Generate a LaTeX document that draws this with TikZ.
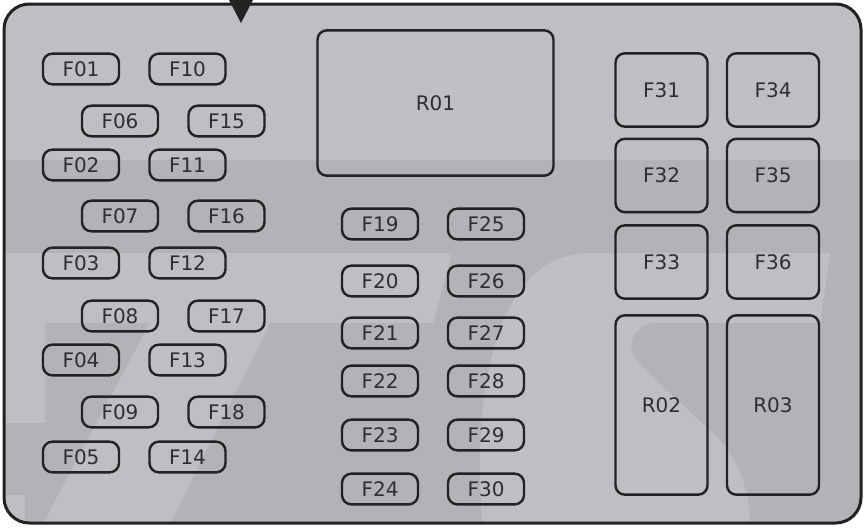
\documentclass[tikz,border=0pt]{standalone}
\usepackage{fontspec}
\setmainfont{DejaVu Sans}
\usetikzlibrary{positioning}
\definecolor{boxline}{HTML}{222222}
\definecolor{boxtext}{HTML}{2E2E30}
\definecolor{boardlight}{HTML}{BEBFC3}
\definecolor{boarddark}{HTML}{B2B3B7}

\begin{document}
\begin{tikzpicture}[
        x=0.75pt, y=-0.75pt,
        fuse/.style={rectangle, draw=boxline, line width=1.8pt, rounded corners=7pt, inner sep=0pt, minimum width=57pt, minimum height=23pt, text=boxtext, font=\fontsize{15}{18}\selectfont},
        bigfuse/.style={fuse, minimum width=69pt, minimum height=55pt},
        relay/.style={fuse, minimum width=69pt, minimum height=134.5pt},
        mainrelay/.style={fuse, minimum width=177pt, minimum height=109pt}
    ]
    \useasboundingbox (0,0) rectangle (866,529);

    % board with faint watermark
    \begin{scope}
    \path[clip, rounded corners=19pt] (4,4) rectangle (861,523);
    \fill[boardlight] (0,0) rectangle (866,529);
    \fill[boarddark] (0,160) rectangle (866,529);
    \fill[boardlight] (0,253) -- (452,253) -- (433,323) -- (0,323) -- cycle;
    \fill[boardlight] (0,323) -- (45,323) -- (45,423) -- (0,423) -- cycle;
    \fill[boardlight] (0,495) -- (25,495) -- (25,529) -- (0,529) -- cycle;
    \fill[boardlight] (150,323) -- (270,323) -- (167,529) -- (40,529) -- cycle;
    \fill[boardlight] (483,529) .. controls (470,380) and (500,253) .. (590,253) -- (830,253) -- (820,323) -- (650,323) .. controls (630,330) and (625,350) .. (640,365) -- (720,440) .. controls (745,470) and (750,500) .. (750,529) -- cycle;
    \end{scope}
    \draw[boxline, line width=2.25pt, rounded corners=19pt] (4,4) rectangle (861,523);
    \fill[boxline] (229,0) -- (253,0) -- (241,23) -- cycle;

    % left fuses
    \node[fuse] (f01) at (81,69) {F01};
    \node[fuse] (f10) at (187.5,69) {F10};
    \node[fuse] (f06) at (120,121) {F06};
    \node[fuse] (f15) at (226.5,121) {F15};
    \node[fuse] (f02) at (81,165) {F02};
    \node[fuse] (f11) at (187.5,165) {F11};
    \node[fuse] (f07) at (120,216) {F07};
    \node[fuse] (f16) at (226.5,216) {F16};
    \node[fuse] (f03) at (81,263) {F03};
    \node[fuse] (f12) at (187.5,263) {F12};
    \node[fuse] (f08) at (120,316) {F08};
    \node[fuse] (f17) at (226.5,316) {F17};
    \node[fuse] (f04) at (81,360) {F04};
    \node[fuse] (f13) at (187.5,360) {F13};
    \node[fuse] (f09) at (120,412) {F09};
    \node[fuse] (f18) at (226.5,412) {F18};
    \node[fuse] (f05) at (81,457) {F05};
    \node[fuse] (f14) at (187.5,457) {F14};

    % middle
    \node[mainrelay] (r01) at (435.5,103) {R01};
    \node[fuse] (f19) at (380,224) {F19};
    \node[fuse] (f25) at (486,224) {F25};
    \node[fuse] (f20) at (380,281) {F20};
    \node[fuse] (f26) at (486,281) {F26};
    \node[fuse] (f21) at (380,333) {F21};
    \node[fuse] (f27) at (486,333) {F27};
    \node[fuse] (f22) at (380,381) {F22};
    \node[fuse] (f28) at (486,381) {F28};
    \node[fuse] (f23) at (380,435) {F23};
    \node[fuse] (f29) at (486,435) {F29};
    \node[fuse] (f24) at (380,489) {F24};
    \node[fuse] (f30) at (486,489) {F30};

    % right
    \node[bigfuse] (f31) at (661.5,90) {F31};
    \node[bigfuse] (f34) at (773,90) {F34};
    \node[bigfuse] (f32) at (661.5,175.5) {F32};
    \node[bigfuse] (f35) at (773,175.5) {F35};
    \node[bigfuse] (f33) at (661.5,262) {F33};
    \node[bigfuse] (f36) at (773,262) {F36};
    \node[relay] (r02) at (661.5,405) {R02};
    \node[relay] (r03) at (773,405) {R03};

    \end{tikzpicture}
\end{document}
